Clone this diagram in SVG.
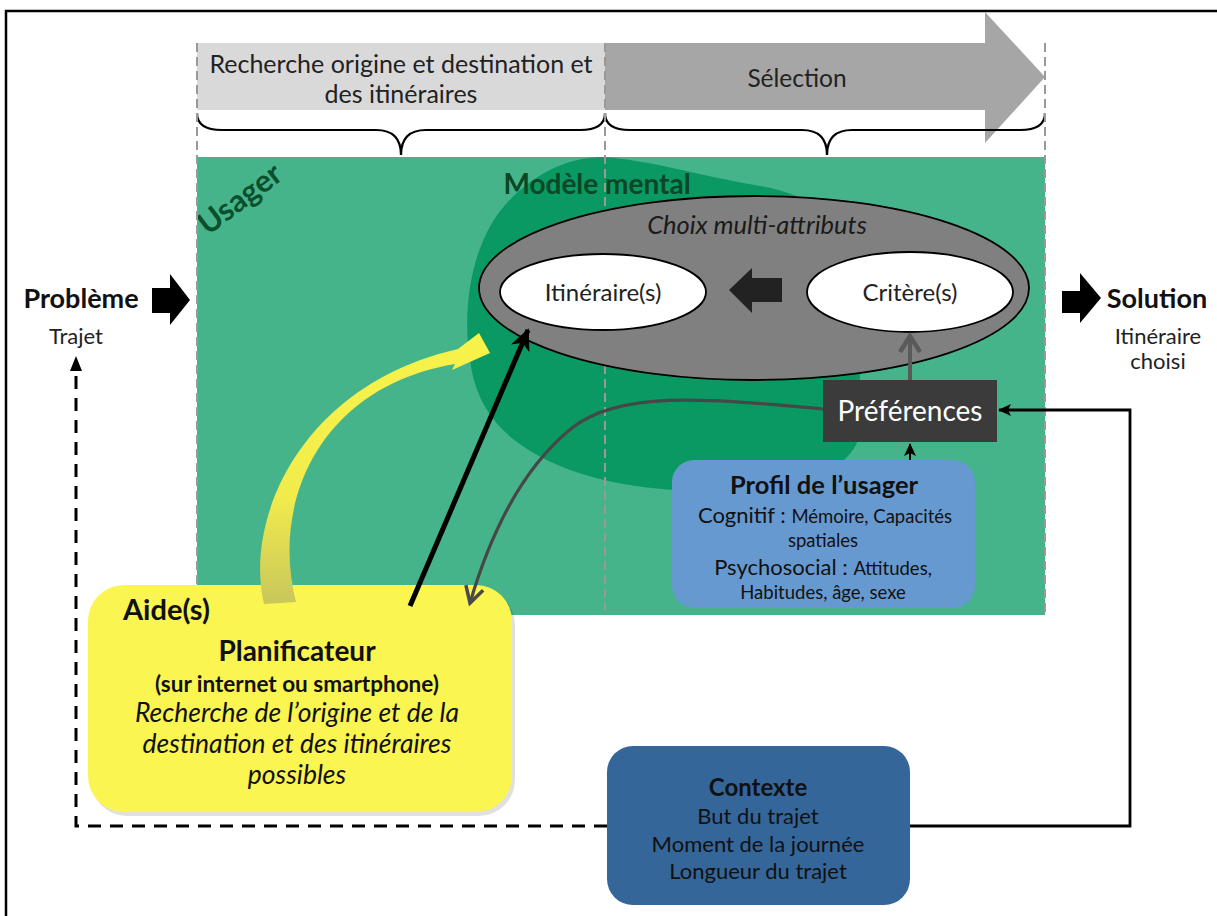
<svg xmlns="http://www.w3.org/2000/svg" width="1217" height="916" viewBox="0 0 1217 916">
<defs>
<style>
text{font-family:Lato,"Open Sans","Liberation Sans",sans-serif;}
.dash{stroke:#999;stroke-width:2;stroke-dasharray:9 5;fill:none}
.brace{stroke:#000;stroke-width:2.2;fill:none}
.lbl{fill:#222;text-anchor:middle}
.bold{font-weight:bold}
.it{font-style:italic}
.c{text-anchor:middle}
</style>
<marker id="ahBlack" markerUnits="userSpaceOnUse" markerWidth="24" markerHeight="24" viewBox="0 0 24 24" refX="20" refY="12" orient="auto">
<path d="M0 2 L22 12 L0 22 L6 12 Z" fill="#000"/>
</marker>
<marker id="ahSmall" markerUnits="userSpaceOnUse" markerWidth="14" markerHeight="14" viewBox="0 0 14 14" refX="12" refY="7" orient="auto">
<path d="M0 1 L13 7 L0 13 L3 7 Z" fill="#000"/>
</marker>
<marker id="ahGrayOpen" markerUnits="userSpaceOnUse" markerWidth="24" markerHeight="24" viewBox="0 0 24 24" refX="20" refY="12" orient="auto">
<path d="M4 3 L20 12 L4 21" fill="none" stroke="#4a4a4a" stroke-width="3.5"/>
</marker>
<marker id="ahGray" markerUnits="userSpaceOnUse" markerWidth="24" markerHeight="24" viewBox="0 0 24 24" refX="20" refY="12" orient="auto">
<path d="M4 2 L20 12 L4 22" fill="none" stroke="#5a5a5a" stroke-width="4.5"/>
</marker>
<linearGradient id="yellowGrad" x1="0" y1="0" x2="0" y2="1">
<stop offset="0" stop-color="#f8f34a"/>
<stop offset="0.6" stop-color="#f1ec4c"/>
<stop offset="1" stop-color="#c9c65c"/>
</linearGradient>
</defs>

<rect width="1217" height="916" fill="#fff"/>
<path d="M6 916 L6 11 L1217 11" fill="none" stroke="#000" stroke-width="2.5"/>

<g id="phases">
<rect x="197" y="43" width="408" height="67" fill="#d9d9d9"/>
<path d="M605 43 L985 43 L985 12 L1045 77 L985 143 L985 110 L605 110 Z" fill="#a6a6a6"/>
<text class="lbl" x="401" y="73" font-size="25">Recherche origine et destination et</text>
<text class="lbl" x="401" y="103" font-size="25">des itinéraires</text>
<text class="lbl" x="797" y="87" font-size="24.5">Sélection</text>
<path class="brace" d="M197 113 Q197 130 222 130 L376 130 Q401 130 401 155 Q401 130 426 130 L580 130 Q605 130 605 113"/>
<path class="brace" d="M605 113 Q605 130 630 130 L802 130 Q827 130 827 155 Q827 130 852 130 L1020 130 Q1045 130 1045 113"/>
</g>

<g id="usager">
<rect x="197" y="157" width="848" height="458" fill="#46b48b"/>
<path d="M603 157 C650 160 700 176 760 186 C830 198 865 240 862 310 L858 440 C845 475 790 492 710 491 C650 491 600 482 565 468 C515 448 482 420 472 372 C460 315 470 245 505 205 C535 172 570 157 603 157 Z" fill="#0a9963"/>
<text x="0" y="0" transform="translate(208 236) rotate(-37)" font-size="31" font-weight="bold" fill="#0b4f2c">Usager</text>
<text x="597" y="194" font-size="28" font-weight="bold" fill="#0a4727" class="c">Modèle mental</text>
</g>

<g id="guides">
<line class="dash" x1="197" y1="43" x2="197" y2="600"/>
<line class="dash" x1="605" y1="43" x2="605" y2="610"/>
<line class="dash" x1="1045" y1="43" x2="1045" y2="615"/>
</g>

<g id="choix">
<ellipse cx="754" cy="288" rx="275" ry="92" fill="#808080" stroke="#000" stroke-width="1.8"/>
<text x="757" y="234" font-size="25.5" class="c it" fill="#1a1a1a">Choix multi-attributs</text>
</g>

<g id="itineraires">
<ellipse cx="603" cy="292" rx="103" ry="38" fill="#fff" stroke="#000" stroke-width="1.8"/>
<text x="603" y="301" font-size="24" class="c" fill="#222">Itinéraire(s)</text>
</g>

<g id="criteres">
<ellipse cx="910" cy="292" rx="103" ry="40" fill="#fff" stroke="#000" stroke-width="1.8"/>
<text x="910" y="301" font-size="24" class="c" fill="#222">Critère(s)</text>
</g>

<g id="choix-arrow">
<path d="M729 290 L752 268 L752 278 L782 278 L782 302 L752 302 L752 313 Z" fill="#222"/>
</g>

<g id="preferences">
<rect x="823" y="380" width="174" height="62" fill="#3b3b3b"/>
<text x="910" y="421" font-size="28" class="c" fill="#fff">Préférences</text>
</g>

<g id="profil">
<rect x="672" y="460" width="303" height="148" rx="22" fill="#6699cf"/>
<text x="824" y="494" font-size="25.5" class="c bold" fill="#111">Profil de l’usager</text>
<text x="825" y="523" class="c" fill="#111"><tspan font-size="22">Cognitif : </tspan><tspan font-size="18.5">Mémoire, Capacités</tspan></text>
<text x="823" y="547" font-size="18.5" class="c" fill="#111">spatiales</text>
<text x="823" y="575" class="c" fill="#111"><tspan font-size="22">Psychosocial : </tspan><tspan font-size="18.5">Attitudes,</tspan></text>
<text x="823" y="599" font-size="18.5" class="c" fill="#111">Habitudes, âge, sexe</text>
</g>

<g id="aides">
<rect x="91" y="589" width="424" height="227" rx="36" fill="#000" opacity="0.12"/>
<rect x="88" y="585" width="424" height="227" rx="36" fill="#faf550"/>
<text x="123" y="620" font-size="29" class="bold" fill="#111">Aide(s)</text>
<text x="297" y="661" font-size="28" class="c bold" fill="#111">Planificateur</text>
<text x="297" y="692" font-size="22.5" class="c bold" fill="#111">(sur internet ou smartphone)</text>
<text x="297" y="722" font-size="26.5" class="c it" fill="#111">Recherche de l’origine et de la</text>
<text x="297" y="753" font-size="26.5" class="c it" fill="#111">destination et des itinéraires</text>
<text x="297" y="784" font-size="26.5" class="c it" fill="#111">possibles</text>
</g>

<g id="contexte">
<rect x="607" y="746" width="303" height="159" rx="26" fill="#34669a"/>
<text x="758" y="796" font-size="24" class="c bold" fill="#111">Contexte</text>
<text x="758" y="824" font-size="22" class="c" fill="#111">But du trajet</text>
<text x="758" y="852" font-size="22" class="c" fill="#111">Moment de la journée</text>
<text x="758" y="879" font-size="22" class="c" fill="#111">Longueur du trajet</text>
</g>

<g id="probleme">
<path d="M152 288 L170 288 L170 274 L190 300 L170 325 L170 313 L152 313 Z" fill="#000"/>
<text x="81" y="308" font-size="27" class="c bold" fill="#111">Problème</text>
<text x="76" y="344" font-size="22" class="c" fill="#222">Trajet</text>
</g>

<g id="solution">
<path d="M1062 291 L1080 291 L1080 273 L1101 298 L1080 323 L1080 313 L1062 313 Z" fill="#000"/>
<text x="1157" y="308" font-size="27" class="c bold" fill="#111">Solution</text>
<text x="1158" y="344" font-size="22" class="c" fill="#222">Itinéraire</text>
<text x="1158" y="369" font-size="22" class="c" fill="#222">choisi</text>
</g>

<g id="connectors">
<path id="yellow-arrow" d="M264 604 C244 520 300 385 458 349 L479 333 L490 353 L452 370 L455 364 C322 386 270 500 296 602 Z" fill="url(#yellowGrad)"/>
<line x1="410" y1="606" x2="528" y2="330" stroke="#000" stroke-width="5" marker-end="url(#ahBlack)"/>
<path d="M823 409 C720 400 622 388 572 428 C522 468 490 535 470 603" fill="none" stroke="#474747" stroke-width="3.2" marker-end="url(#ahGrayOpen)"/>
<line x1="910" y1="380" x2="910" y2="336" stroke="#5a5a5a" stroke-width="4" marker-end="url(#ahGray)"/>
<line x1="910" y1="460" x2="910" y2="444" stroke="#000" stroke-width="2" marker-end="url(#ahSmall)"/>
<path d="M910 826 L1130 826 L1130 410 L999 410" fill="none" stroke="#000" stroke-width="2.8" marker-end="url(#ahSmall)"/>
<path d="M607 826 L76 826 L76 362" fill="none" stroke="#000" stroke-width="3" stroke-dasharray="13 9"/>
<path d="M70 371 L76 356 L82 371 Z" fill="#000"/>
</g>
</svg>
